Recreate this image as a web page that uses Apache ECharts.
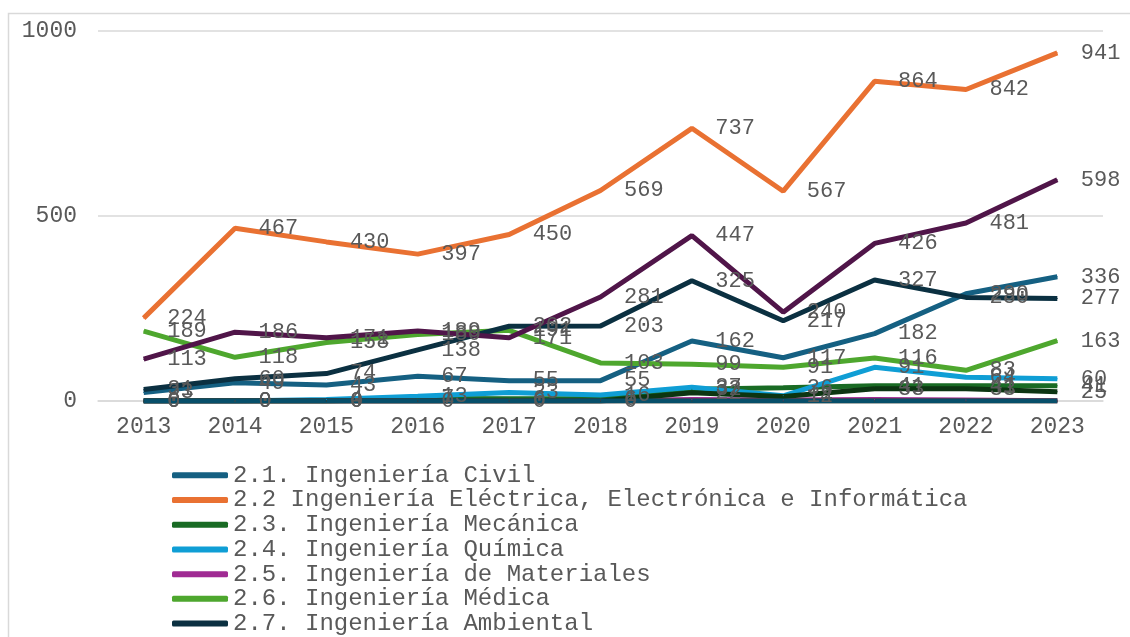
<!DOCTYPE html>
<html>
<head>
<meta charset="utf-8">
<script src="https://cdn.jsdelivr.net/npm/echarts@6/dist/echarts.min.js"></script>
<style>
  html, body { margin: 0; padding: 0; background: #fff; }
  #main { width: 1130px; height: 637px; }
</style>
</head>
<body>
<div id="main"></div>
<script>
// años
var years = ['2013', '2014', '2015', '2016', '2017', '2018', '2019', '2020', '2021', '2022', '2023']

// series
var civil = [23, 49, 43, 67, 55, 55, 162, 117, 182, 290, 336]
var electrica = [224, 467, 430, 397, 450, 569, 737, 567, 864, 842, 941]
var mecanica = [0, 0, 0, 7, 6, 6, 32, 36, 41, 41, 41]
var quimica = [0, 0, 4, 13, 23, 16, 37, 14, 91, 64, 60]
var materiales = [0, 0, 0, 0, 0, 1, 4, 3, 4, 3, 1]
var medica = [189, 118, 158, 180, 191, 103, 99, 91, 116, 83, 163]
var ambiental = [31, 60, 74, 138, 202, 203, 325, 217, 327, 280, 277]
var biotecAmb = [0, 0, 0, 0, 0, 0, 0, 0, 0, 0, 0]
var biotecInd = [0, 0, 0, 0, 0, 0, 22, 12, 33, 33, 25]
var nano = [0, 0, 0, 0, 0, 0, 0, 0, 0, 0, 0]
var otras = [113, 186, 171, 189, 171, 281, 447, 240, 426, 481, 598]

var names = [
  '2.1. Ingeniería Civil',
  '2.2 Ingeniería Eléctrica, Electrónica e Informática',
  '2.3. Ingeniería Mecánica',
  '2.4. Ingeniería Química',
  '2.5. Ingeniería de Materiales',
  '2.6. Ingeniería Médica',
  '2.7. Ingeniería Ambiental',
  '2.8. Biotecnología Ambiental',
  '2.9. Biotecnología Industrial',
  '2.10. Nanotecnología',
  '2.11. Otras Ingenierías y Tecnologías'
]
var values = [civil, electrica, mecanica, quimica, materiales, medica, ambiental, biotecAmb, biotecInd, nano, otras]
var colors = ['#156082', '#e97132', '#196b24', '#0f9ed5', '#a02b93', '#4ea72e', '#0b3041', '#77380f', '#0c3512', '#074f6a', '#501549']
var withLabel = [true, true, true, true, false, true, true, false, true, false, true]

var font = 'Liberation Mono'
var txtColor = '#595959'

var myChart = echarts.init(document.getElementById('main'))

var series = []
for (var i = 0; i < names.length; i++) {
  series.push({
    name: names[i],
    type: 'line',
    data: values[i],
    symbol: 'circle',
    symbolSize: 1,
    lineStyle: { width: 5, color: colors[i] },
    itemStyle: { color: colors[i] },
    emphasis: { disabled: true },
    label: {
      show: withLabel[i],
      position: 'right',
      distance: 23,
      fontFamily: font,
      fontSize: 22,
      color: txtColor
    }
  })
}

var option = {
  animation: false,
  color: colors,
  graphic: [{
    type: 'rect',
    shape: { x: 8.5, y: 13.5, width: 1200, height: 700 },
    style: { fill: 'none', stroke: '#d9d9d9', lineWidth: 1.5 },
    silent: true
  }],
  grid: {
    left: 98,
    right: 27,
    top: 31,
    height: 370,
    containLabel: false
  },
  legend: {
    type: 'plain',
    orient: 'vertical',
    left: 172,
    top: 463,
    height: 600,
    padding: 0,
    itemGap: 0,
    itemWidth: 56,
    itemHeight: 6,
    icon: 'roundRect',
    data: names,
    textStyle: {
      fontFamily: font,
      fontSize: 24,
      lineHeight: 24.7,
      color: txtColor
    }
  },
  xAxis: {
    type: 'category',
    data: years,
    boundaryGap: true,
    axisLine: { show: true, lineStyle: { color: '#d9d9d9', width: 1.5 } },
    axisTick: { show: false },
    axisLabel: {
      margin: 14,
      fontFamily: font,
      fontSize: 23,
      color: txtColor
    }
  },
  yAxis: {
    type: 'value',
    min: 0,
    max: 1000,
    interval: 500,
    axisLine: { show: false },
    axisTick: { show: false },
    splitLine: { lineStyle: { color: '#d9d9d9', width: 1.5 } },
    axisLabel: {
      margin: 21,
      fontFamily: font,
      fontSize: 23,
      color: txtColor,
      formatter: function (v) { return String(v) }
    }
  },
  series: series
}

myChart.setOption(option)
</script>
</body>
</html>
